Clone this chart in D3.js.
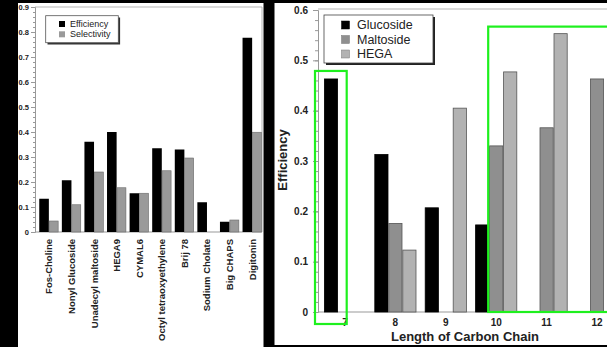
<!DOCTYPE html>
<html>
<head>
<meta charset="utf-8">
<script src="https://cdn.jsdelivr.net/npm/d3@7"></script>
<style>
  html, body { margin: 0; padding: 0; background: #000; }
  svg { display: block; font-family: "Liberation Sans", Arial, sans-serif; }
</style>
</head>
<body>
<script>
// left chart: detergents
const detergents = ['Fos-Choline', 'Nonyl Glucoside', 'Unadecyl maltoside', 'HEGA9', 'CYMAL6',
  'Octyl tetraoxyethylene', 'Brij 78', 'Sodium Cholate', 'Big CHAPS', 'Digitonin'];
const efficiency = [0.133, 0.207, 0.361, 0.40, 0.155, 0.335, 0.33, 0.119, 0.041, 0.777];
const selectivity = [0.044, 0.109, 0.24, 0.177, 0.155, 0.245, 0.296, null, 0.048, 0.399];
const leftTicks = [0, 0.1, 0.2, 0.3, 0.4, 0.5, 0.6, 0.7, 0.8, 0.9];

// right chart: carbon chain length
const chainLengths = ['7', '8', '9', '10', '11', '12'];
const seriesNames = ['Glucoside', 'Maltoside', 'HEGA'];
const glucoside = [0.463, 0.313, 0.207, 0.173, null, null];
const maltoside = [null, 0.176, null, 0.33, 0.366, 0.463];
const hega = [null, 0.123, 0.405, 0.477, 0.553, null];
const rightTicks = [0, 0.1, 0.2, 0.3, 0.4, 0.5, 0.6];

const W = 607, H = 347;
const svg = d3.select('body').append('svg').attr('width', W).attr('height', H);

svg.append('rect').attr('width', W).attr('height', H).attr('fill', '#000');
// white panels
svg.append('rect').attr('x', 18).attr('y', 3).attr('width', 245.5).attr('height', 344).attr('fill', '#fff');
svg.append('rect').attr('x', 274.5).attr('y', 3).attr('width', W - 274.5).attr('height', 342).attr('fill', '#fff');

const fmt = (d) => d === 0 ? '0' : d3.format('.1f')(d);

// ---------- left chart ----------
const yL = d3.scaleLinear().domain([0, 0.9]).range([232, 7]);
const xL = d3.scaleBand().domain(detergents).range([37, 264]).paddingInner(0.15).paddingOuter(0.1);
const xLs = d3.scaleBand().domain(['eff', 'sel']).range([0, xL.bandwidth()]);

const left = svg.append('g');
left.append('line').attr('x1', 35).attr('x2', 262).attr('y1', 7).attr('y2', 7).attr('stroke', '#b5b5b5');
left.append('line').attr('x1', 262).attr('x2', 262).attr('y1', 7).attr('y2', 232).attr('stroke', '#b5b5b5');
left.append('line').attr('x1', 35).attr('x2', 262).attr('y1', 232).attr('y2', 232).attr('stroke', '#999');

const minorL = d3.range(0, 46).map((i) => i * 0.02);
left.append('g').attr('transform', 'translate(35,0)')
  .call(d3.axisLeft(yL).tickValues(minorL).tickSize(2).tickFormat(''))
  .call((g) => g.select('.domain').remove())
  .selectAll('line').attr('stroke', '#999');
const axL = left.append('g').attr('transform', 'translate(35,0)')
  .call(d3.axisLeft(yL).tickValues(leftTicks).tickSize(4).tickPadding(2).tickFormat(fmt));
axL.select('.domain').attr('stroke', '#999');
axL.selectAll('line').attr('stroke', '#999');
axL.selectAll('text').attr('font-size', '7.5px').attr('font-weight', 'bold').attr('fill', '#222')
  .attr('font-family', '"Liberation Sans", Arial, sans-serif');

detergents.forEach((name, i) => {
  const x0 = xL(name);
  left.append('rect')
    .attr('x', x0 + xLs('eff')).attr('y', yL(efficiency[i]))
    .attr('width', xLs.bandwidth()).attr('height', yL(0) - yL(efficiency[i]))
    .attr('fill', '#000');
  if (selectivity[i] != null) {
    left.append('rect')
      .attr('x', x0 + xLs('sel') + 0.3).attr('y', yL(selectivity[i]))
      .attr('width', xLs.bandwidth() - 0.6).attr('height', yL(0) - yL(selectivity[i]))
      .attr('fill', '#9a9a9a').attr('stroke', '#6a6a6a').attr('stroke-width', 0.6);
  }
  left.append('text')
    .attr('transform', 'translate(' + (x0 + xL.bandwidth() / 2) + ',239) rotate(-90)')
    .attr('text-anchor', 'end').attr('dominant-baseline', 'central')
    .attr('font-size', '9.5px').attr('font-weight', 'bold').attr('fill', '#222')
    .text(name);
});

// left legend
left.append('rect').attr('x', 47.5).attr('y', 17.5).attr('width', 72.6).attr('height', 27).attr('fill', '#333');
left.append('rect').attr('x', 45.7).attr('y', 15.7).attr('width', 72.6).attr('height', 27)
  .attr('fill', '#fff').attr('stroke', '#555').attr('stroke-width', 0.8);
[['Efficiency', '#000'], ['Selectivity', '#9a9a9a']].forEach((d, i) => {
  const cy = 24 + i * 10.3;
  left.append('rect').attr('x', 59).attr('y', cy - 3).attr('width', 6).attr('height', 6).attr('fill', d[1]);
  left.append('text').attr('x', 70).attr('y', cy).attr('dominant-baseline', 'central')
    .attr('font-size', '9px').attr('fill', '#222').text(d[0]);
});

// ---------- right chart ----------
const yR = d3.scaleLinear().domain([0, 0.6]).range([312, 10]);
const xR = d3.scaleBand().domain(chainLengths).range([319.8, 622.2]).paddingInner(1 / 6).paddingOuter(1 / 12);
const xRs = d3.scaleBand().domain(seriesNames).range([0, xR.bandwidth()]);
const colors = { Glucoside: '#000', Maltoside: '#8f8f8f', HEGA: '#b2b2b2' };
const values = { Glucoside: glucoside, Maltoside: maltoside, HEGA: hega };

const right = svg.append('g');
right.append('line').attr('x1', 318).attr('x2', W).attr('y1', 9).attr('y2', 9).attr('stroke', '#b5b5b5');
right.append('line').attr('x1', 318).attr('x2', W).attr('y1', 312).attr('y2', 312).attr('stroke', '#999');

const minorR = d3.range(0, 31).map((i) => i * 0.02);
right.append('g').attr('transform', 'translate(318,0)')
  .call(d3.axisLeft(yR).tickValues(minorR).tickSize(3).tickFormat(''))
  .call((g) => g.select('.domain').remove())
  .selectAll('line').attr('stroke', '#999');
const axR = right.append('g').attr('transform', 'translate(318,0)')
  .call(d3.axisLeft(yR).tickValues(rightTicks).tickSize(5).tickPadding(5).tickFormat(fmt));
axR.select('.domain').attr('stroke', '#999');
axR.selectAll('line').attr('stroke', '#999');
axR.selectAll('text').attr('font-size', '10px').attr('font-weight', 'bold').attr('fill', '#222')
  .attr('font-family', '"Liberation Sans", Arial, sans-serif');

chainLengths.forEach((c, i) => {
  seriesNames.forEach((s) => {
    const v = values[s][i];
    if (v == null) { return; }
    right.append('rect')
      .attr('x', xR(c) + xRs(s) + 0.4).attr('y', yR(v))
      .attr('width', xRs.bandwidth() - 0.8).attr('height', yR(0) - yR(v))
      .attr('fill', colors[s])
      .attr('stroke', s === 'Glucoside' ? '#000' : '#555').attr('stroke-width', 0.8);
  });
  right.append('text')
    .attr('x', xR(c) + xR.bandwidth() / 2).attr('y', 322)
    .attr('text-anchor', 'middle').attr('dominant-baseline', 'central')
    .attr('font-size', '10px').attr('font-weight', 'bold').attr('fill', '#222')
    .text(c);
});

// axis titles
right.append('text').attr('x', 465).attr('y', 341).attr('text-anchor', 'middle')
  .attr('font-size', '13px').attr('font-weight', 'bold').attr('fill', '#222')
  .text('Length of Carbon Chain');
right.append('text').attr('transform', 'translate(282,160) rotate(-90)')
  .attr('text-anchor', 'middle').attr('dominant-baseline', 'central')
  .attr('font-size', '13px').attr('font-weight', 'bold').attr('fill', '#222')
  .text('Efficiency');

// right legend
right.append('rect').attr('x', 326).attr('y', 17).attr('width', 109).attr('height', 48).attr('fill', '#222');
right.append('rect').attr('x', 324).attr('y', 15).attr('width', 109).attr('height', 48)
  .attr('fill', '#fff').attr('stroke', '#444').attr('stroke-width', 0.8);
seriesNames.forEach((s, i) => {
  const cy = 25 + i * 14.5;
  right.append('rect').attr('x', 341.5).attr('y', cy - 4).attr('width', 8).attr('height', 8)
    .attr('fill', colors[s]).attr('stroke', s === 'Glucoside' ? '#000' : '#777').attr('stroke-width', 0.5);
  right.append('text').attr('x', 357).attr('y', cy).attr('dominant-baseline', 'central')
    .attr('font-size', '12.5px').attr('fill', '#222').text(s);
});

// green highlight boxes
const green = '#1ef01e';
const b1x = xR('7') + xRs('Glucoside');
right.append('rect')
  .attr('x', b1x - 9).attr('y', yR(glucoside[0]) - 8)
  .attr('width', xRs.bandwidth() + 17.7).attr('height', yR(0) + 12 - (yR(glucoside[0]) - 8))
  .attr('fill', 'none').attr('stroke', green).attr('stroke-width', 2.2);
const b2x = xR('10') + xRs('Maltoside') - 1;
right.append('rect')
  .attr('x', b2x).attr('y', yR(0.567))
  .attr('width', W + 20 - b2x).attr('height', yR(0) - yR(0.567))
  .attr('fill', 'none').attr('stroke', green).attr('stroke-width', 2.2);
</script>
</body>
</html>
